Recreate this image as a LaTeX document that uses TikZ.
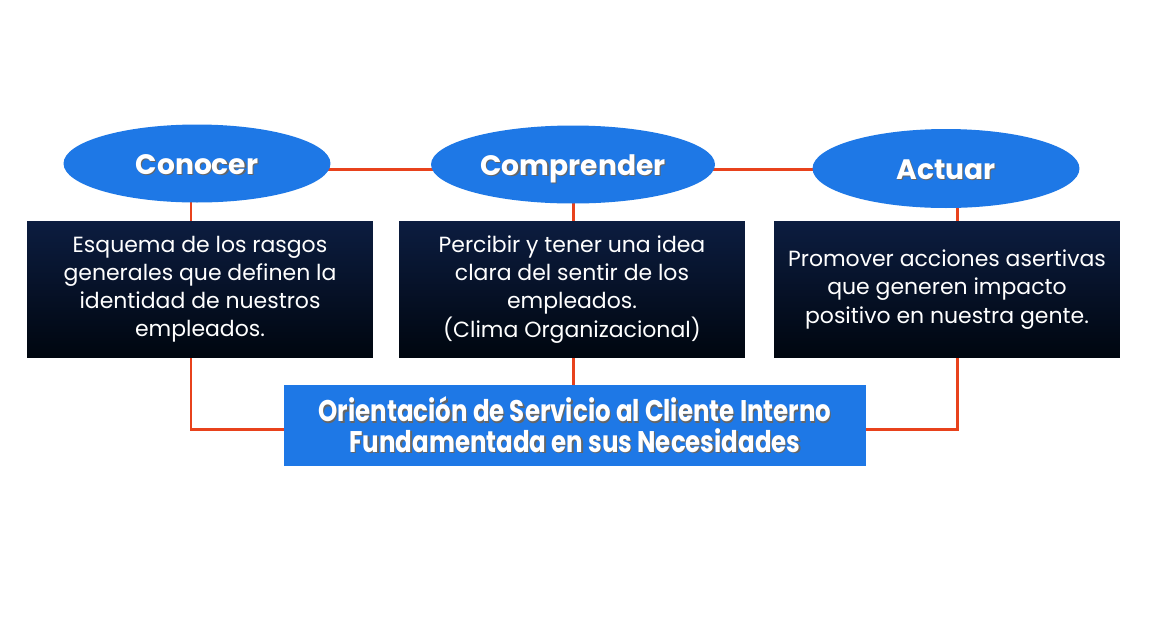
\documentclass[tikz,border=0pt]{standalone}
\usepackage{fontspec}
\setmainfont{Poppins}
\newfontfamily\narrowfont[FakeStretch=0.82]{Poppins}
\usepackage{tikz}
\usetikzlibrary{shapes.geometric, backgrounds}
\definecolor{mBlue}{HTML}{1E78E6}
\definecolor{mRed}{HTML}{E8421C}
\definecolor{mNavy}{HTML}{0C1D40}
\definecolor{mInk}{HTML}{00060F}
\newcommand{\shadowed}[1]{\makebox[0pt][l]{\kern0.7pt\raisebox{-0.7pt}{\color{black!60}#1}}#1}

\begin{document}
\begin{tikzpicture}[x=0.02cm, y=-0.02cm,
      phase/.style={ellipse, fill=mBlue, minimum width=5.34cm, minimum height=1.56cm,
        inner sep=0pt, text height=12pt, text depth=0pt, text=white,
        font=\fontsize{16}{19}\selectfont\bfseries},
      note/.style={top color=mNavy, bottom color=mInk, minimum width=6.92cm,
        minimum height=2.74cm, align=center, text=white,
        font=\fontsize{12.5}{16}\selectfont},
      goal/.style={fill=mBlue, minimum width=11.64cm, minimum height=1.62cm,
        align=center, text=white, font=\narrowfont\fontsize{17}{17.5}\selectfont\bfseries},
      link/.style={mRed, line width=1.7pt}]
    \useasboundingbox (0,0) rectangle (1151,640);
    % the three steps
    \node[phase] (conocer) at (197,163.5) {\shadowed{Conocer}};
    \node[phase, minimum width=5.68cm] (comprender) at (573,164.5) {\shadowed{Comprender}};
    \node[phase, minimum height=1.58cm] (actuar) at (946,168.5) {\shadowed{Actuar}};
    \node[note] (esq1) at (200,289.5) {Esquema de los rasgos\\generales que definen la\\identidad de nuestros\\empleados.};
    \node[note] (esq2) at (572,289.5) {Percibir y tener una idea\\clara del sentir de los\\empleados.\\(Clima Organizacional)};
    \node[note] (esq3) at (947,289.5) {Promover acciones asertivas\\que generen impacto\\positivo en nuestra gente.};
    \node[goal] (orient) at (575,425.5) {\shadowed{Orientación de Servicio al Cliente Interno}\\\shadowed{Fundamentada en sus Necesidades}};
    \begin{scope}[on background layer]
      \fill[white] (0,0) rectangle (1151,640);
      \draw[link] ([yshift=-0.11cm]conocer.center) coordinate (row) -- (row -| actuar.center);
      \draw[link] ([xshift=-0.12cm]conocer.center) |- ([yshift=-0.07cm]orient.west);
      \draw[link] (comprender.center) -- (comprender.center |- orient.north);
      \draw[link] ([xshift=0.23cm]actuar.center) |- ([yshift=-0.07cm]orient.east);
    \end{scope}
  \end{tikzpicture}
\end{document}
